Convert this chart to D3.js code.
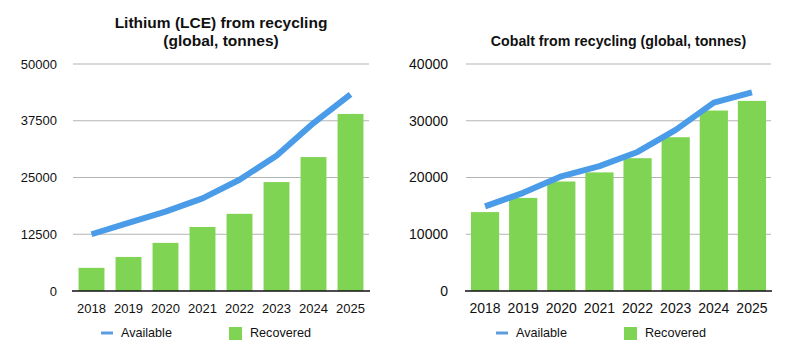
<!DOCTYPE html>
<html>
<head>
<meta charset="utf-8">
<script src="https://cdn.jsdelivr.net/npm/d3@7"></script>
<style>
  body { margin: 0; background: #fff; }
  svg { display: block; font-family: "Liberation Sans", Arial, Helvetica, sans-serif; }
</style>
</head>
<body>
<div id="chart"></div>
<script>
const years = ["2018", "2019", "2020", "2021", "2022", "2023", "2024", "2025"];

const lithiumAvailable = [12500, 15000, 17500, 20400, 24500, 29800, 37000, 43300];
const lithiumRecovered = [5100, 7500, 10600, 14100, 17000, 24000, 29500, 39000];
const lithiumTicks = [0, 12500, 25000, 37500, 50000];

const cobaltAvailable = [14900, 17300, 20200, 22000, 24500, 28400, 33200, 35000];
const cobaltRecovered = [13900, 16400, 19300, 20900, 23400, 27100, 31800, 33500];
const cobaltTicks = [0, 10000, 20000, 30000, 40000];

const legendLabels = ["Available", "Recovered"];

const green = "#80d454";
const blue = "#4a9be8";

const svg = d3.select("#chart").append("svg").attr("width", 800).attr("height", 363);

function drawChart(opt) {
  const g = svg.append("g");

  const x = d3.scaleBand().domain(years).range([opt.x0, opt.x1]).paddingInner(opt.pad).paddingOuter(opt.pad / 2);
  const y = d3.scaleLinear().domain([0, opt.max]).range([291, 64]);

  // gridlines
  g.selectAll(".grid").data(opt.ticks.filter(d => d > 0)).enter().append("line")
    .attr("x1", opt.x0).attr("x2", opt.x1)
    .attr("y1", d => y(d)).attr("y2", d => y(d))
    .attr("stroke", "#b4b4b4").attr("stroke-width", 1.2);

  // y tick labels
  g.selectAll(".ylab").data(opt.ticks).enter().append("text")
    .attr("x", opt.x0 - opt.labelGap)
    .attr("y", d => y(d))
    .attr("dy", "0.35em")
    .attr("text-anchor", "end")
    .attr("font-size", opt.tickSize)
    .attr("fill", "#111")
    .text(d => d);

  // bars
  g.selectAll(".bar").data(opt.recovered).enter().append("rect")
    .attr("x", (d, i) => x(years[i]))
    .attr("width", x.bandwidth())
    .attr("y", d => y(d))
    .attr("height", d => y(0) - y(d))
    .attr("fill", green);

  // baseline
  g.append("line")
    .attr("x1", opt.x0 - 1).attr("x2", opt.x1 + 1)
    .attr("y1", y(0)).attr("y2", y(0))
    .attr("stroke", "#111").attr("stroke-width", 1.5);

  // available line
  const line = d3.line()
    .x((d, i) => x(years[i]) + x.bandwidth() / 2)
    .y(d => y(d));
  g.append("path")
    .datum(opt.available)
    .attr("d", line)
    .attr("fill", "none")
    .attr("stroke", blue)
    .attr("stroke-width", 6)
    .attr("stroke-linejoin", "round");

  // x labels
  g.selectAll(".xlab").data(years).enter().append("text")
    .attr("x", d => x(d) + x.bandwidth() / 2)
    .attr("y", 313)
    .attr("text-anchor", "middle")
    .attr("font-size", opt.tickSize)
    .attr("fill", "#111")
    .text(d => d);

  // title
  opt.title.forEach((t, i) => {
    g.append("text")
      .attr("x", (opt.x0 + opt.x1) / 2)
      .attr("y", opt.titleY + i * 18)
      .attr("text-anchor", "middle")
      .attr("font-size", opt.titleSize)
      .attr("font-weight", "bold")
      .attr("fill", "#111")
      .text(t);
  });

  // legend
  const lg = g.append("g");
  lg.append("line")
    .attr("x1", opt.legendX).attr("x2", opt.legendX + 12)
    .attr("y1", 333).attr("y2", 333)
    .attr("stroke", "#5b9ddf").attr("stroke-width", 3);
  lg.append("text")
    .attr("x", opt.legendX + 20).attr("y", 333).attr("dy", "0.35em")
    .attr("font-size", 12.6).attr("fill", "#111")
    .text(legendLabels[0]);
  lg.append("rect")
    .attr("x", opt.legendX + 128).attr("y", 327)
    .attr("width", 13).attr("height", 13)
    .attr("fill", green);
  lg.append("text")
    .attr("x", opt.legendX + 149).attr("y", 333).attr("dy", "0.35em")
    .attr("font-size", 12.6).attr("fill", "#111")
    .text(legendLabels[1]);
}

drawChart({
  x0: 73, x1: 369, pad: 0.3, max: 50000, ticks: lithiumTicks,
  available: lithiumAvailable, recovered: lithiumRecovered,
  title: ["Lithium (LCE) from recycling", "(global, tonnes)"], titleY: 28, titleSize: 15.5,
  tickSize: 13, labelGap: 16, legendX: 101
});

drawChart({
  x0: 466, x1: 771, pad: 0.26, max: 40000, ticks: cobaltTicks,
  available: cobaltAvailable, recovered: cobaltRecovered,
  title: ["Cobalt from recycling (global, tonnes)"], titleY: 46, titleSize: 14.2,
  tickSize: 14, labelGap: 18, legendX: 496
});
</script>
</body>
</html>
